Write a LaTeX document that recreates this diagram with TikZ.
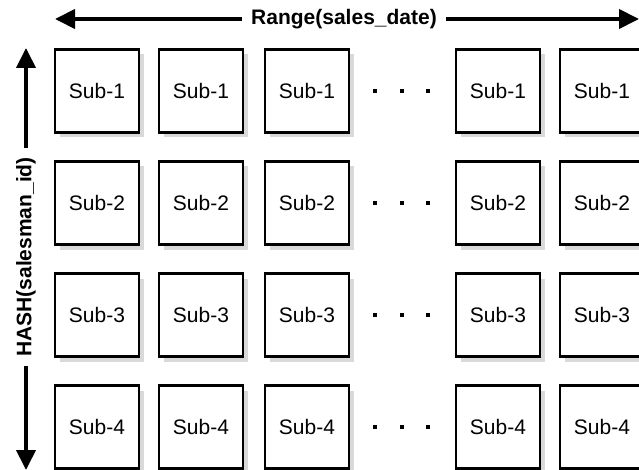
\documentclass[tikz,border=0pt]{standalone}
\usepackage{fontspec}
\setmainfont{Liberation Sans}
\usetikzlibrary{arrows.meta, shadows}
\definecolor{cshadow}{HTML}{D9D9D9}
\tikzset{
  every picture/.style={line width=2.4pt},
  subbox/.style={draw=black, fill=white, minimum width=84pt, minimum height=83pt, inner sep=0pt,
    font=\fontsize{21}{25}\selectfont,
    drop shadow={shadow xshift=5pt, shadow yshift=-5pt, fill=cshadow, opacity=1}},
  dotmark/.style={fill=black, draw=none, minimum size=4pt, inner sep=0pt},
  arrow/.style={-{Triangle[length=20pt, width=19pt]}, line width=4pt},
  axislabel/.style={font=\bfseries\fontsize{21}{25}\selectfont, inner sep=8pt},
}

\begin{document}
\begin{tikzpicture}[x=1pt, y=-1pt]
  \useasboundingbox (0,0) rectangle (639,470);
  % ---- grid of subpartitions
  \foreach \r/\y in {1/91,2/203,3/315,4/427} {
    \foreach \c/\x in {1/97,2/201,3/307,4/498,5/602}
      \node[subbox] (sub\r\c) at (\x,\y) {Sub-\r};
    \foreach \d/\x in {1/375,2/402,3/428}
      \node[dotmark] (dot\r\d) at (\x,\y) {};
  }
  % ---- range axis
  \node[axislabel] (range) at (344,19) {Range(sales\_date)};
  \coordinate (rangeL) at (55,19);
  \coordinate (rangeR) at (639,19);
  \draw[arrow] (range.west) -- (rangeL);
  \draw[arrow] (range.east) -- (rangeR);
  % ---- hash axis
  \node[axislabel, rotate=90] (hash) at (26,257) {HASH(salesman\_id)};
  \coordinate (hashT) at (26,48);
  \coordinate (hashB) at (26,470);
  \draw[arrow] (hash.east) -- (hashT);
  \draw[arrow] (hash.west) -- (hashB);
\end{tikzpicture}
\end{document}
